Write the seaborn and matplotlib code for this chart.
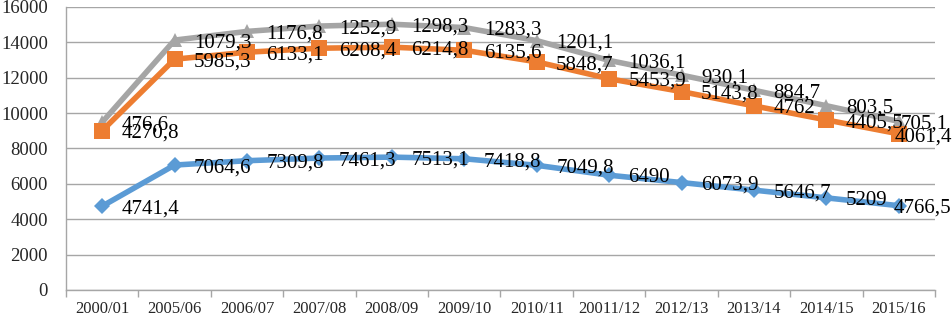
import numpy as np
import pandas as pd
import matplotlib
matplotlib.use("Agg")
import matplotlib.pyplot as plt
from matplotlib.ticker import FixedLocator
import seaborn as sns

# Data (stacked line chart)
years = ["2000/01", "2005/06", "2006/07", "2007/08", "2008/09", "2009/10",
         "2010/11", "20011/12", "2012/13", "2013/14", "2014/15", "2015/16"]
series_a = [4741.4, 7064.6, 7309.8, 7461.3, 7513.1, 7418.8,
            7049.8, 6490, 6073.9, 5646.7, 5209, 4766.5]
series_b = [4270.8, 5985.3, 6133.1, 6208.4, 6214.8, 6135.6,
            5848.7, 5453.9, 5143.8, 4762, 4405.5, 4061.4]
series_c = [476.6, 1079.3, 1176.8, 1252.9, 1298.3, 1283.3,
            1201.1, 1036.1, 930.1, 884.7, 803.5, 705.1]

sns.set_theme(style="white")
plt.rcParams["font.family"] = ["Liberation Serif", "DejaVu Serif"]

a = np.array(series_a)
b = a + np.array(series_b)
c = b + np.array(series_c)

x = np.arange(len(years))
df = pd.concat([
    pd.DataFrame({"x": x, "y": a, "s": "A", "raw": series_a}),
    pd.DataFrame({"x": x, "y": b, "s": "B", "raw": series_b}),
    pd.DataFrame({"x": x, "y": c, "s": "C", "raw": series_c}),
])

colors = {"A": "#5B9BD5", "B": "#ED7D31", "C": "#A5A5A5"}
markers = {"A": "D", "B": "s", "C": "^"}
msize = {"A": 8, "B": 11, "C": 10}
# x offset (points) of the label on the last point, squeezed to fit
last_off = {"A": -4, "B": -3, "C": 1}

fig = plt.figure(figsize=(9.52, 3.16), dpi=100)
ax = fig.add_axes([66 / 952, 1 - 290 / 316, (935 - 66) / 952, (290 - 7) / 316])

for s in ["C", "B", "A"]:
    d = df[df["s"] == s]
    sns.lineplot(data=d, x="x", y="y", ax=ax, color=colors[s], linewidth=4,
                 marker=markers[s], markersize=msize[s], markeredgewidth=0,
                 legend=False, zorder=3)

# data labels, right of points
for s in ["A", "B", "C"]:
    d = df[df["s"] == s]
    for xi, yi, r in zip(d["x"], d["y"], d["raw"]):
        txt = ("%g" % r).replace(".", ",")
        dx = last_off[s] if xi == len(years) - 1 else 14
        ax.annotate(txt, (xi, yi), xytext=(dx, -2), textcoords="offset points",
                    ha="left", va="center", fontsize=15, color="black",
                    zorder=5, annotation_clip=False)

ax.set_xlim(-0.5, len(years) - 0.5)
ax.set_ylim(0, 16000)
ax.set_yticks(np.arange(0, 16001, 2000))
ax.set_xticks(x)
ax.set_xticklabels(years, fontsize=12)
ax.tick_params(axis="y", labelsize=13.5, length=0, pad=13)
ax.tick_params(axis="x", which="major", length=0, pad=8)
ax.xaxis.set_minor_locator(FixedLocator(np.arange(-0.5, len(years), 1)))
ax.tick_params(axis="x", which="minor", length=5, color="#A6A6A6", width=1, bottom=True)
ax.set_xlabel("")
ax.set_ylabel("")
ax.grid(axis="y", color="#A6A6A6", linewidth=1)
ax.set_axisbelow(True)
for sp in ["top", "right"]:
    ax.spines[sp].set_visible(False)
for sp in ["left", "bottom"]:
    ax.spines[sp].set_color("#A6A6A6")
    ax.spines[sp].set_linewidth(1)

fig.savefig("out.png", dpi=100)
